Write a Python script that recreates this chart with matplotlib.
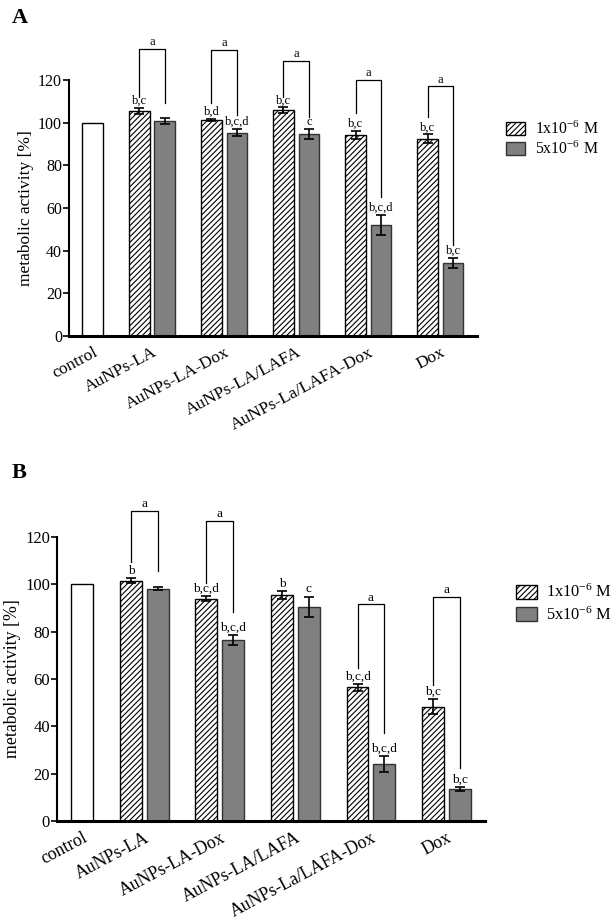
import numpy as np
import matplotlib
matplotlib.use("Agg")
import matplotlib.pyplot as plt
from matplotlib.patches import Patch

plt.rcParams['font.family'] = ['Liberation Serif', 'DejaVu Serif']
plt.rcParams['mathtext.fontset'] = 'stix'
plt.rcParams['hatch.linewidth'] = 0.8

# data
groups = ['AuNPs-LA', 'AuNPs-LA-Dox', 'AuNPs-LA/LAFA', 'AuNPs-La/LAFA-Dox', 'Dox']
series = ['1x10$^{\\mathregular{-6}}$ M', '5x10$^{\\mathregular{-6}}$ M']
control = 100

# panel A
a_low = [105.6, 101.3, 105.8, 94.2, 92.5]
a_low_err = [1.5, 0.5, 1.4, 1.8, 2.0]
a_high = [100.6, 95.3, 94.6, 51.9, 34.4]
a_high_err = [1.4, 1.7, 2.3, 4.7, 2.3]
a_low_lab = ['b,c', 'b,d', 'b,c', 'b,c', 'b,c']
a_high_lab = ['', 'b,c,d', 'c', 'b,c,d', 'b,c']
# bracket: top, left leg end, right leg end
a_brackets = [(134.5, 112, 109), (134, 109, 103.6), (129, 112, 102.7),
              (120, 104.5, 65), (117, 102.6, 42.7)]

# panel B
b_low = [101.5, 94.0, 95.5, 56.5, 48.3]
b_low_err = [1.0, 1.0, 1.8, 1.5, 3.2]
b_high = [98.2, 76.5, 90.6, 24.0, 13.4]
b_high_err = [0.5, 2.1, 4.2, 3.4, 0.9]
b_low_lab = ['b', 'b,c,d', 'b', 'b,c,d', 'b,c']
b_high_lab = ['', 'b,c,d', 'c', 'b,c,d', 'b,c']
b_brackets = [(131, 109.5, 105.7), (126.8, 100.4, 88.4), None,
              (91.5, 64.5, 37), (94.8, 57.5, 22.4)]

W = 6.11
H = 9.23
fig = plt.figure(figsize=(W, H), dpi=100)

off = 0.177
bw = 0.29


def panel(ax, low, low_err, high, high_err, low_lab, high_lab, brackets, fs_tick, fs_lab, fs_ann):
    x = np.arange(1, len(groups) + 1)
    ax.bar(off, control, bw, color='white', edgecolor='black', linewidth=1)
    ax.bar(x - off, low, bw, color='white', edgecolor='black', hatch='//////', linewidth=1)
    ax.bar(x + off, high, bw, color='#808080', edgecolor='#333333', linewidth=1)
    ax.errorbar(x - off, low, yerr=low_err, fmt='none', ecolor='black', capsize=3.5, elinewidth=1.2, capthick=1.2)
    ax.errorbar(x + off, high, yerr=high_err, fmt='none', ecolor='black', capsize=3.5, elinewidth=1.2, capthick=1.2)
    for i in range(len(groups)):
        ax.text(x[i] - off, low[i] + low_err[i] + 0.5, low_lab[i], ha='center', va='bottom', fontsize=fs_ann)
        if high_lab[i]:
            ax.text(x[i] + off, high[i] + high_err[i] + 0.5, high_lab[i], ha='center', va='bottom', fontsize=fs_ann)
        br = brackets[i]
        if br is not None:
            top, l_end, r_end = br
            ax.plot([x[i] - off, x[i] - off, x[i] + off, x[i] + off], [l_end, top, top, r_end],
                    color='black', linewidth=0.9, clip_on=False)
            ax.text(x[i], top + 0.3, 'a', ha='center', va='bottom', fontsize=fs_ann)
    ax.set_xlim(-0.155, 5.51)
    ax.set_ylim(0, 120)
    ax.set_yticks([0, 20, 40, 60, 80, 100, 120])
    ax.set_xticks([off] + list(x))
    ax.set_xticklabels(['control'] + groups, rotation=28, ha='right', rotation_mode='anchor', fontsize=fs_lab)
    ax.tick_params(axis='x', length=0, pad=6)
    ax.tick_params(axis='y', direction='out', length=4, width=1.2, labelsize=fs_tick, pad=1)
    ax.spines['top'].set_visible(False)
    ax.spines['right'].set_visible(False)
    ax.spines['left'].set_linewidth(1.5)
    ax.spines['bottom'].set_linewidth(2.2)
    ax.set_ylabel('metabolic activity [%]', fontsize=fs_lab, labelpad=3)


axA = fig.add_axes([69 / 611, 1 - 336 / 923, 408 / 611, 256 / 923])
panel(axA, a_low, a_low_err, a_high, a_high_err, a_low_lab, a_high_lab, a_brackets, 11.5, 12.5, 9)
axB = fig.add_axes([57 / 611, 1 - 821 / 923, 428 / 611, 284 / 923])
panel(axB, b_low, b_low_err, b_high, b_high_err, b_low_lab, b_high_lab, b_brackets, 12, 12.8, 9.5)

handles = [Patch(facecolor='white', edgecolor='black', hatch='//////'),
           Patch(facecolor='#808080', edgecolor='#333333')]
fig.legend(handles, series, loc='upper left', bbox_to_anchor=(498 / 611, 1 - 113 / 923), frameon=False,
           fontsize=11.3, handlelength=1.25, handleheight=0.9, handletextpad=0.6, labelspacing=0.15, borderpad=0)
fig.legend(handles, series, loc='upper left', bbox_to_anchor=(508 / 611, 1 - 576 / 923), frameon=False,
           fontsize=11.8, handlelength=1.25, handleheight=0.9, handletextpad=0.55, labelspacing=0.3, borderpad=0)

fig.text(12 / 611, 1 - 8 / 923, 'A', fontsize=16, fontweight='bold', va='top')
fig.text(12 / 611, 1 - 463 / 923, 'B', fontsize=16, fontweight='bold', va='top')

fig.savefig('out.png', dpi=100)
